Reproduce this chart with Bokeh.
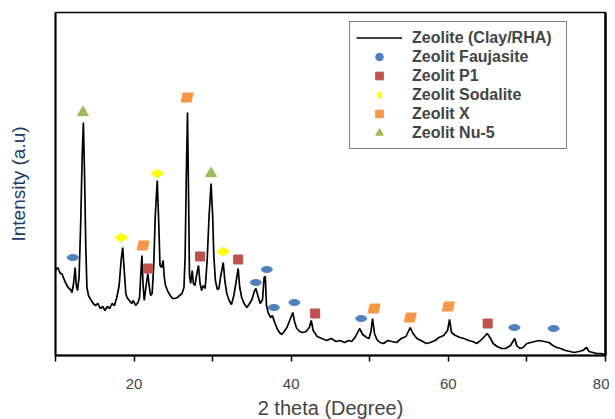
from bokeh.plotting import figure
from bokeh.models import Range1d, FixedTicker, Legend, LegendItem, LinearAxis
from bokeh.embed import file_html
from bokeh.resources import INLINE

# ---- data (x: 2 theta, y: intensity a.u.) ----
two_theta = [10.0, 10.3, 10.6, 10.8, 11.2, 11.6, 11.9, 12.1, 12.3, 12.5, 12.65, 12.8, 13.0, 13.2,
             13.4, 13.55, 13.7, 13.85, 14.0, 14.2, 14.4, 14.8, 15.1, 15.4, 15.7, 16.0, 16.3, 16.6,
             16.9, 17.2, 17.5, 17.8, 18.1, 18.35, 18.55, 18.75, 18.95, 19.1, 19.4, 19.7, 19.9, 20.2,
             20.5, 20.7, 20.85, 21.0, 21.15, 21.3, 21.5, 21.75, 21.95, 22.1, 22.3, 22.5, 22.7, 22.95,
             23.15, 23.3, 23.5, 23.7, 23.85, 24.0, 24.3, 24.6, 24.9, 25.2, 25.5, 25.8, 26.1, 26.35,
             26.5, 26.65, 26.8, 26.95, 27.05, 27.2, 27.4, 27.55, 27.75, 27.95, 28.2, 28.4, 28.6, 28.8,
             29.05, 29.3, 29.55, 29.8, 30.0, 30.15, 30.35, 30.6, 30.8, 31.0, 31.35, 31.55, 31.8, 32.1,
             32.4, 32.7, 32.95, 33.25, 33.45, 33.7, 34.0, 34.35, 34.7, 35.0, 35.3, 35.5, 35.75, 36.05,
             36.35, 36.55, 36.7, 36.85, 37.1, 37.4, 37.6, 37.9, 38.2, 38.5, 38.8, 39.1, 39.45, 39.8,
             40.2, 40.45, 40.7, 41.1, 41.5, 41.9, 42.3, 42.55, 42.8, 43.3, 43.9, 44.5, 45.1, 45.7,
             46.2, 46.8, 47.3, 47.7, 48.2, 48.7, 49.1, 49.6, 49.9, 50.15, 50.35, 50.6, 50.9, 51.3,
             51.75, 52.3, 52.8, 53.4, 54.0, 54.6, 55.15, 55.5, 56.0, 56.5, 57.2, 57.7, 58.3, 58.8,
             59.4, 59.9, 60.15, 60.4, 60.9, 61.5, 62.0, 62.6, 63.1, 63.6, 64.1, 64.6, 64.95, 65.3,
             65.7, 66.2, 66.8, 67.3, 67.9, 68.45, 68.7, 69.1, 69.5, 70.0, 70.5, 71.0, 71.6, 72.2,
             72.8, 73.3, 73.8, 74.3, 74.9, 75.5, 76.0, 76.6, 77.1, 77.6, 77.9, 78.4, 78.9, 79.4, 80.0]
intensity = [85, 88, 82, 82, 74, 68, 66, 63, 72, 88, 70, 65, 78, 130,
             200, 233, 180, 110, 68, 60, 57, 52, 50, 52, 47, 49, 45, 49,
             47, 52, 50, 58, 70, 95, 108, 85, 62, 58, 55, 52, 55, 50,
             53, 58, 80, 100, 70, 55, 68, 82, 68, 60, 62, 90, 140, 175,
             130, 90, 88, 95, 78, 70, 64, 60, 57, 57, 58, 60, 62, 68,
             100, 180, 243, 150, 80, 72, 85, 72, 70, 80, 90, 72, 65, 70,
             67, 95, 140, 172, 140, 100, 75, 66, 67, 78, 93, 75, 62, 55,
             51, 60, 72, 87, 68, 58, 52, 48, 52, 56, 64, 67, 60, 52,
             56, 78, 79, 50, 42, 38, 40, 33, 27, 23, 21, 24, 28, 35,
             43, 33, 27, 24, 23, 24, 28, 35, 25, 19, 17, 15, 17, 14,
             15, 13, 15, 14, 19, 27, 21, 18, 17, 24, 37, 22, 16, 13,
             12, 15, 14, 13, 17, 19, 28, 22, 17, 15, 12, 13, 15, 18,
             20, 25, 36, 23, 20, 18, 17, 15, 14, 12, 15, 19, 22, 18,
             12, 9, 7, 7, 10, 17, 10, 7, 8, 12, 13, 14, 15, 14,
             13, 10, 8, 7, 5, 4, 3, 4, 5, 8, 4, 3, 2, 2, 1]

faujasite_x = [12.2, 35.5, 36.9, 37.8, 40.4, 48.9, 68.4, 73.4]
faujasite_y = [98, 73, 86, 48, 53, 37, 28, 27]
p1_x = [21.8, 28.4, 33.25, 43.05, 65.0]
p1_y = [87, 99, 96, 42, 32]
sodalite_x = [18.35, 22.95, 31.35]
sodalite_y = [118, 182, 104]
zx_x = [21.15, 26.75, 50.55, 55.15, 60.0]
zx_y = [110, 258, 47, 38, 49]
nu5_x = [13.5, 29.8]
nu5_y = [243, 182]

x_ticks = [10, 20, 30, 40, 50, 60, 70, 80]
x_tick_labels = {10: "", 20: "20", 30: "", 40: "40", 50: "", 60: "60", 70: "", 80: "80"}

X_MIN, X_MAX = 10, 80
Y_MIN, Y_MAX = 0, 343
FW, FH = 550, 343
NAN = float("nan")

p = figure(frame_width=FW, frame_height=FH, output_backend="svg", toolbar_location=None,
           x_range=Range1d(X_MIN, X_MAX), y_range=Range1d(Y_MIN, Y_MAX),
           min_border_left=55, min_border_right=4, min_border_top=12, min_border_bottom=60)
p.xgrid.visible = False
p.ygrid.visible = False
p.background_fill_color = "white"
p.border_fill_color = "white"
p.outline_line_color = "black"
p.outline_line_width = 1.3

# x axis
xa = p.xaxis[0]
xa.ticker = FixedTicker(ticks=x_ticks)
xa.major_label_overrides = x_tick_labels
xa.minor_tick_line_color = None
xa.major_tick_out = 6
xa.major_tick_in = 0
xa.major_tick_line_width = 1.5
xa.axis_line_width = 2
xa.major_label_text_font = "Liberation Sans"
xa.major_label_text_font_size = "15px"
xa.major_label_standoff = 17
xa.axis_label = "2 theta (Degree)"
xa.axis_label_text_font = "Liberation Sans"
xa.axis_label_text_font_size = "20px"
xa.axis_label_text_font_style = "normal"
xa.axis_label_standoff = 5

# y axis
ya = p.yaxis[0]
ya.ticker = FixedTicker(ticks=[])
ya.minor_tick_line_color = None
ya.major_tick_line_color = None
ya.major_label_text_font_size = "0px"
ya.axis_line_width = 2
ya.axis_label = "Intensity (a.u)"
ya.axis_label_text_font = "Liberation Sans"
ya.axis_label_text_font_size = "19px"
ya.axis_label_text_font_style = "normal"
ya.axis_label_text_color = "#203864"
ya.axis_label_standoff = 27

# thick right border
ra = LinearAxis(ticker=FixedTicker(ticks=[]), major_label_text_font_size="0px",
                major_tick_line_color=None, minor_tick_line_color=None, axis_line_width=2.5)
p.add_layout(ra, "right")

line_r = p.line(two_theta, intensity, line_color="black", line_width=1.7)

p.ellipse(faujasite_x, faujasite_y, width=11, height=6, width_units="screen",
          height_units="screen", fill_color="#4f81bd", line_color="#4f81bd")
p1_r = p.scatter(p1_x, p1_y, marker="square", size=9, fill_color="#c0504d", line_color="#c0504d")
sod_r = p.scatter(sodalite_x, sodalite_y, marker="diamond", size=13, angle=1.5708,
                  fill_color="#ffff00", line_color="#ffff00")

# parallelogram markers for Zeolit X, built around each centre in screen-pixel offsets
dxp = (X_MAX - X_MIN) / FW
dyp = (Y_MAX - Y_MIN) / FH
shape = [(-6, -4.5), (4, -4.5), (6, 4.5), (-4, 4.5)]
zx_xs = [[cx + sx * dxp for sx, sy in shape] for cx in zx_x]
zx_ys = [[cy + sy * dyp for sx, sy in shape] for cy in zx_y]
p.patches(zx_xs, zx_ys, fill_color="#f79646", line_color="#f79646")

nu5_r = p.scatter(nu5_x, nu5_y, marker="triangle", size=11, fill_color="#9bbb59", line_color="#9bbb59")

# legend-only proxies (NaN, not drawn in the plot) so the legend shows small symbols
fau_leg = p.scatter(x=[NAN], y=[NAN], marker="circle", fill_color="#4f81bd", line_color="#4f81bd")
zx_leg = p.scatter(x=[NAN], y=[NAN], marker="square", fill_color="#f79646", line_color="#f79646")

legend = Legend(items=[
    LegendItem(label="Zeolite (Clay/RHA)", renderers=[line_r]),
    LegendItem(label="Zeolit Faujasite", renderers=[fau_leg]),
    LegendItem(label="Zeolit P1", renderers=[p1_r]),
    LegendItem(label="Zeolit Sodalite", renderers=[sod_r]),
    LegendItem(label="Zeolit X", renderers=[zx_leg]),
    LegendItem(label="Zeolit Nu-5", renderers=[nu5_r]),
], location=(294, 206))
legend.label_text_font = "Liberation Sans"
legend.label_text_font_style = "bold"
legend.label_text_font_size = "16px"
legend.label_height = 18
legend.label_width = 148
legend.glyph_height = 19
legend.glyph_width = 46
legend.spacing = 0
legend.padding = 6
legend.margin = 0
legend.label_standoff = 10
legend.border_line_color = "black"
legend.border_line_width = 1
legend.background_fill_alpha = 1
p.add_layout(legend, "center")

open("out.html", "w").write(file_html(p, INLINE))
